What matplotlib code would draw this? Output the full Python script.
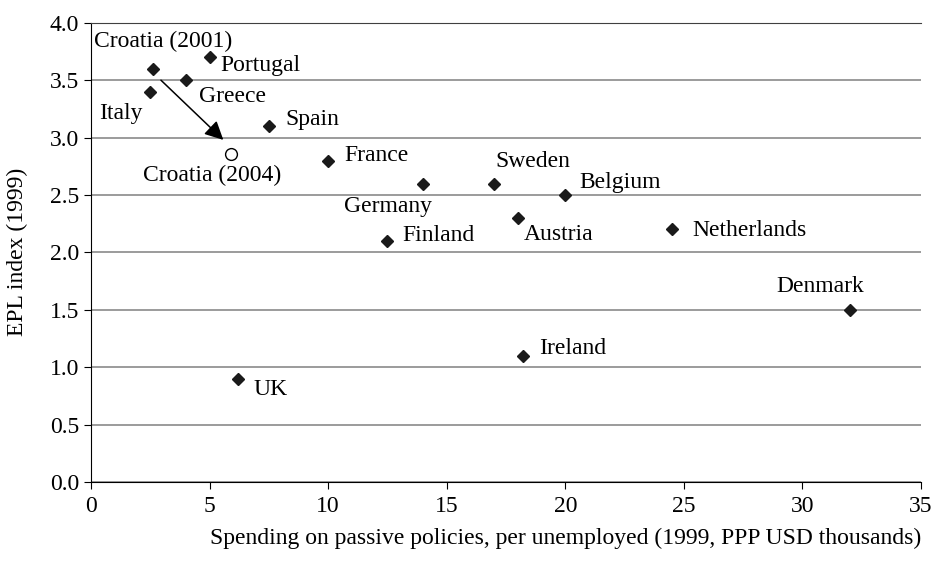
import numpy as np
import matplotlib.pyplot as plt

# Data
countries = ["Portugal", "Greece", "Italy", "Spain", "France", "Germany",
             "Sweden", "Belgium", "Austria", "Finland", "Netherlands",
             "Denmark", "Ireland", "UK"]
spending = [5.0, 4.0, 2.5, 7.5, 10.0, 14.0, 17.0, 20.0, 18.0, 12.5, 24.5,
            32.0, 18.2, 6.2]
epl = [3.7, 3.5, 3.4, 3.1, 2.8, 2.6, 2.6, 2.5, 2.3, 2.1, 2.2, 1.5, 1.1, 0.9]

croatia_2001 = (2.6, 3.6)
croatia_2004 = (5.9, 2.86)

# label anchor (left edge, vertical centre) in data units
label_x = [5.44, 4.55, 0.34, 8.2, 10.7, 10.67, 17.03, 20.6, 18.26, 13.14,
           25.37, 28.9, 18.9, 6.84]
label_y = [3.625, 3.354, 3.21, 3.16, 2.84, 2.40, 2.79, 2.61, 2.153, 2.15,
           2.19, 1.70, 1.16, 0.806]

plt.rcParams['font.family'] = ['Liberation Serif', 'DejaVu Serif']
fs = 17

fig = plt.figure(figsize=(9.39, 5.64), dpi=100)
ax = fig.add_axes([0.0969, 0.1454, 0.8840, 0.8142])

ax.set_xlim(0, 35)
ax.set_ylim(0, 4.0)
ax.set_xticks(np.arange(0, 36, 5))
ax.set_yticks(np.arange(0, 4.01, 0.5))
ax.set_yticklabels([f"{v:.1f}" for v in np.arange(0, 4.01, 0.5)])
ax.yaxis.grid(True, color="#808080", lw=1.1)
ax.set_axisbelow(True)
ax.spines["right"].set_visible(False)
ax.spines["top"].set_color("#404040")
ax.tick_params(labelsize=fs, direction="out", length=5, color="black")
ax.tick_params(axis="x", pad=5)

ax.plot(spending, epl, "D", color="#1a1a1a", markersize=6.3, zorder=3)
ax.plot(*croatia_2001, "D", color="#1a1a1a", markersize=6.3, zorder=3)
ax.plot(*croatia_2004, "o", mfc="white", mec="black", mew=1, markersize=8.5,
        zorder=3)

# Croatia 2001 -> 2004 arrow
ax.annotate("", xy=(5.58, 2.98), xytext=(2.95, 3.5),
            arrowprops=dict(arrowstyle="-|>", color="black", lw=1.1,
                            mutation_scale=28, shrinkA=0, shrinkB=0))

for name, x, y in zip(countries, label_x, label_y):
    ax.text(x, y, name, fontsize=fs, ha="left", va="center")
ax.text(0.13, 3.835, "Croatia (2001)", fontsize=fs, ha="left", va="center")
ax.text(2.2, 2.67, "Croatia (2004)", fontsize=fs, ha="left", va="center")

fig.text(0.981, 0.046, "Spending on passive policies, per unemployed (1999, PPP USD thousands)",
         fontsize=fs, ha="right", va="center")
fig.text(0.019, 0.553, "EPL index (1999)", fontsize=fs, rotation=90,
         ha="center", va="center")

fig.savefig("out.png", dpi=100)
